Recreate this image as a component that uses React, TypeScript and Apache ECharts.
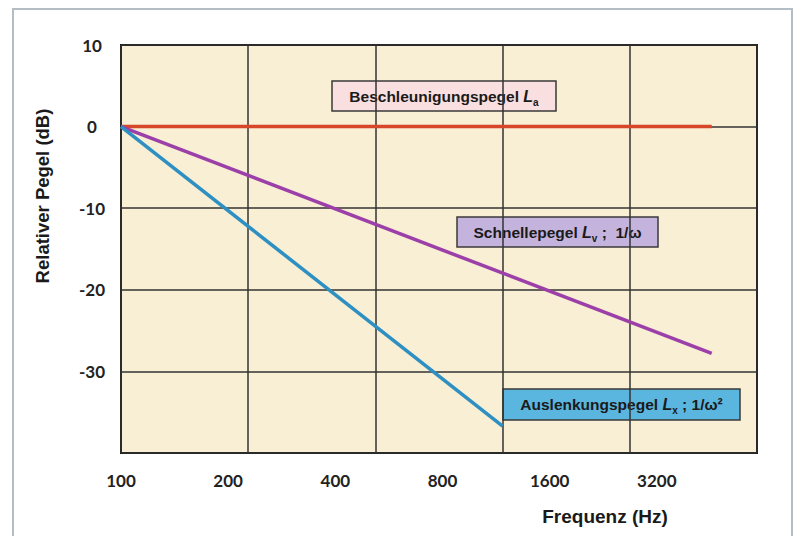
import React, { useEffect, useRef } from "react";
import * as echarts from "echarts";

// Frequencies (Hz) and relative levels (dB)
const accelFreq = [100, 2500];
const accelDb = [0, 0];
const veloFreq = [100, 2500];
const veloDb = [0, -27.8];
const dispFreq = [100, 800];
const dispDb = [0, -36.7];
const xTickLabels = ["100", "200", "400", "800", "1600", "3200"];
const yTicks = [10, 0, -10, -20, -30];

const oct = (f: number) => Math.log2(f / 100);
const toPts = (fs: number[], ds: number[]) => fs.map((f, i) => [oct(f), ds[i]]);

export default function App() {
  const ref = useRef<HTMLDivElement>(null);
  useEffect(() => {
    const chart = echarts.init(ref.current!, undefined, { renderer: "svg" });
    const tickFont = { fontFamily: "Lato", fontWeight: "bold" as const, fontSize: 17, color: "#222" };
    const boxText = (x: number, y: number, w: number, h: number, fill: string, main: string, sub: string, tail: string) => ({
      type: "group",
      children: [
        { type: "rect", shape: { x, y, width: w, height: h }, style: { fill, stroke: "#3a3a3a", lineWidth: 1.5 } },
        {
          type: "text",
          x: x + w / 2,
          y: y + h / 2,
          style: {
            text: `{b|${main} }{i|L}{s|${sub}}{b|${tail}}`,
            align: "center",
            verticalAlign: "middle",
            rich: {
              b: { fontFamily: "Liberation Sans", fontWeight: "bold", fontSize: 15.5, fill: "#1a1a1a" },
              i: { fontFamily: "Liberation Sans", fontWeight: "bold", fontStyle: "italic", fontSize: 16, fill: "#1a1a1a" },
              s: { fontFamily: "Liberation Sans", fontWeight: "bold", fontSize: 10, fill: "#1a1a1a", padding: [12, 0, 0, 0] },
            },
          },
        },
      ],
    });
    chart.setOption({
      animation: false,
      backgroundColor: "#ffffff",
      grid: {
        left: 121,
        right: 36,
        top: 45,
        bottom: 83,
        show: true,
        backgroundColor: "#f8efd4",
        borderColor: "#111",
        borderWidth: 2,
        z: 0,
      },
      xAxis: [
        {
          type: "value",
          min: 0,
          max: 5,
          interval: 1,
          axisLine: { show: false },
          axisTick: { show: false },
          axisLabel: { show: false },
          splitLine: { show: true, lineStyle: { color: "#333", width: 1.5 } },
        },
        {
          type: "value",
          position: "bottom",
          min: 0,
          max: 635 / 107,
          interval: 1,
          axisLine: { show: false },
          axisTick: { show: false },
          splitLine: { show: false },
          axisLabel: {
            ...tickFont,
            margin: 19,
            showMaxLabel: false,
            formatter: (v: number) => (Number.isInteger(v) && xTickLabels[v] ? xTickLabels[v] : ""),
          },
        },
      ],
      yAxis: {
        type: "value",
        min: -40,
        max: 10,
        interval: 10,
        axisLine: { show: false },
        axisTick: { show: false },
        splitLine: { show: true, lineStyle: { color: "#333", width: 1.5 } },
        axisLabel: {
          ...tickFont,
          align: "center",
          margin: 29,
          formatter: (v: number) => (yTicks.includes(v) ? String(v) : ""),
        },
      },
      series: [
        {
          type: "line",
          xAxisIndex: 0,
          data: toPts(accelFreq, accelDb),
          symbol: "none",
          lineStyle: { color: "#d8462a", width: 3.5 },
          z: 3,
        },
        {
          type: "line",
          xAxisIndex: 0,
          data: toPts(veloFreq, veloDb),
          symbol: "none",
          lineStyle: { color: "#9c3fa8", width: 3.5 },
          z: 4,
        },
        {
          type: "line",
          xAxisIndex: 0,
          data: toPts(dispFreq, dispDb),
          symbol: "none",
          lineStyle: { color: "#2e8fc2", width: 3.5 },
          z: 5,
        },
      ],
      graphic: [
        {
          type: "rect",
          shape: { x: 13, y: 9, width: 779, height: 560 },
          style: { fill: "none", stroke: "#b4bcc4", lineWidth: 2 },
          z: -1,
        },
        {
          type: "text",
          x: 42,
          y: 196,
          rotation: Math.PI / 2,
          style: {
            text: "Relativer Pegel (dB)",
            fontFamily: "Liberation Sans",
            fontWeight: "bold",
            fontSize: 18.5,
            fill: "#1a1a1a",
            align: "center",
            verticalAlign: "middle",
          },
        },
        {
          type: "text",
          x: 605,
          y: 516,
          style: {
            text: "Frequenz (Hz)",
            fontFamily: "Liberation Sans",
            fontWeight: "bold",
            fontSize: 19,
            fill: "#1a1a1a",
            align: "center",
            verticalAlign: "middle",
          },
        },
        boxText(332, 81, 224, 30, "#f9dfe0", "Beschleunigungspegel", "a", ""),
        boxText(457, 217, 201, 30, "#c4b3dc", "Schnellepegel", "v", " ;  1/ω"),
        boxText(503, 389, 237, 31, "#5bb6df", "Auslenkungspegel", "x", " ; 1/ω²"),
      ],
    });
    return () => chart.dispose();
  }, []);
  return <div ref={ref} style={{ position: "fixed", left: 0, top: 0, width: 793, height: 536 }} />;
}
